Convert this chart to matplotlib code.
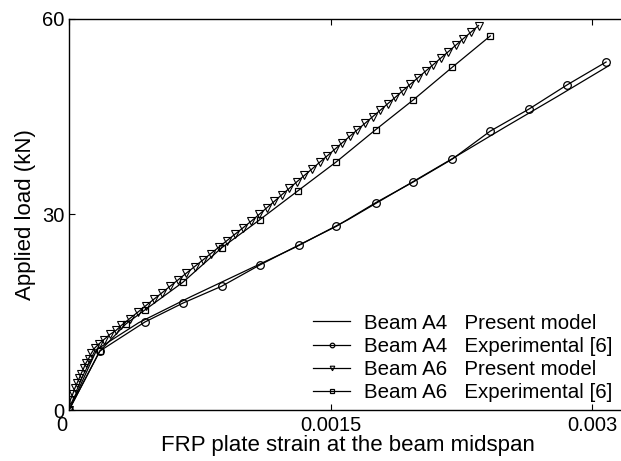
import matplotlib
matplotlib.use("Agg")
import matplotlib.pyplot as plt
import matplotlib.transforms as mtransforms
import numpy as np

plt.rcParams['font.family'] = ['Liberation Sans', 'DejaVu Sans']
plt.rcParams['font.size'] = 14.5

# Beam A4, experimental [6]
a4_exp_strain = [0, 0.000177, 0.000435, 0.000653, 0.000876, 0.001094, 0.001317, 0.001534,
                 0.001758, 0.001975, 0.002198, 0.002416, 0.002639, 0.002857, 0.003080]
a4_exp_load = [0, 9.05, 13.5, 16.4, 19.0, 22.25, 25.3, 28.2, 31.8, 35.0, 38.5, 42.8, 46.2, 49.9, 53.4]

# Beam A4, present model
a4_mod_strain = [0, 0.00016, 0.0004, 0.0007, 0.0010, 0.0013, 0.0016, 0.0019, 0.0022, 0.0025,
                 0.0028, 0.0031]
a4_mod_load = [0, 9.3, 13.4, 17.4, 21.2, 25.0, 29.2, 33.9, 38.6, 43.4, 48.1, 52.9]

# Beam A6, experimental [6]
a6_exp_strain = [0, 0.000177, 0.000326, 0.000435, 0.000653, 0.000876, 0.001094, 0.001311,
                 0.001534, 0.001758, 0.001975, 0.002198, 0.002416]
a6_exp_load = [0, 9.05, 13.2, 15.35, 19.6, 24.9, 29.2, 33.6, 38.1, 43.0, 47.6, 52.6, 57.4]

# Beam A6, present model (microstrain)
a6_mod_ue = [0, 7, 21, 33, 46, 59, 70, 84, 97, 113, 128, 147, 170, 200, 235, 269,
             301, 347, 394, 440, 487, 534, 580, 627, 673, 720, 767, 813, 860, 906, 953, 1000, 1046,
             1090, 1133, 1177, 1219, 1263, 1306, 1350, 1394, 1437, 1481, 1524, 1567, 1610, 1654,
             1698, 1741, 1785, 1828, 1872, 1914, 1958, 2002, 2045, 2089, 2132, 2176, 2219, 2262,
             2306, 2349]
a6_mod_load = [0, 1.5, 2.4, 3.3, 4.1, 4.9, 5.6, 6.4, 7.2, 7.9, 8.7, 9.5, 10.1, 10.8, 11.6, 12.2,
               13, 14, 15, 16, 17, 18, 19, 20, 21, 22, 23, 24, 25, 26, 27, 28, 29,
               30, 31, 32, 33, 34, 35, 36, 37, 38, 39, 40, 41, 42, 43,
               44, 45, 46, 47, 48, 49, 50, 51, 52, 53, 54, 55, 56, 57,
               58, 59]

labels = ["Beam A4   Present model", "Beam A4   Experimental [6]",
          "Beam A6   Present model", "Beam A6   Experimental [6]"]

fig = plt.figure(figsize=(6.21, 4.61), dpi=100)
ax = fig.add_axes([69 / 621, 51 / 461, 558 / 621, 391 / 461])

lw = 0.9
ax.plot(a4_mod_strain, a4_mod_load, color='black', lw=lw, label=labels[0])
ax.plot(a4_exp_strain, a4_exp_load, color='black', lw=lw, marker='o', ms=5.5,
        mfc='none', mec='black', mew=0.9, label=labels[1])
ax.plot(np.array(a6_mod_ue) * 1e-6, a6_mod_load, color='black', lw=lw, marker='v', ms=5.5,
        mfc='none', mec='black', mew=0.8, label=labels[2])
ax.plot(a6_exp_strain, a6_exp_load, color='black', lw=lw, marker='s', ms=5,
        mfc='none', mec='black', mew=0.9, label=labels[3])

ax.set_xlim(0, 0.0032)
ax.set_ylim(0, 60)
ax.set_xticks([0, 0.0015, 0.003])
ax.set_xticklabels(['0', '0.0015', '0.003'])
ax.set_yticks([0, 30, 60])
ax.tick_params(direction='in', length=4, width=0.8, top=True, right=True)
ax.tick_params(axis='x', pad=4)
ax.tick_params(axis='y', pad=3)
for sp in ax.spines.values():
    sp.set_linewidth(1.0)

# the x "0" label sits a little left of its tick
lab0 = ax.get_xticklabels()[0]
lab0.set_transform(lab0.get_transform() + mtransforms.ScaledTranslation(-7 / 100, 0, fig.dpi_scale_trans))

ax.set_xlabel("FRP plate strain at the beam midspan", fontsize=16)
ax.xaxis.set_label_coords(0.5, -0.063)
ax.set_ylabel("Applied load (kN)", fontsize=16)
ax.yaxis.set_label_coords(-0.059, 0.5)

ax.legend(loc='lower right', bbox_to_anchor=(613 / 621, 59 / 461), bbox_transform=fig.transFigure,
          frameon=False, markerscale=0.6, handlelength=1.8, handletextpad=0.7,
          labelspacing=0.2, borderaxespad=0, borderpad=0, fontsize=14.8)

fig.savefig('out.png', dpi=100)
